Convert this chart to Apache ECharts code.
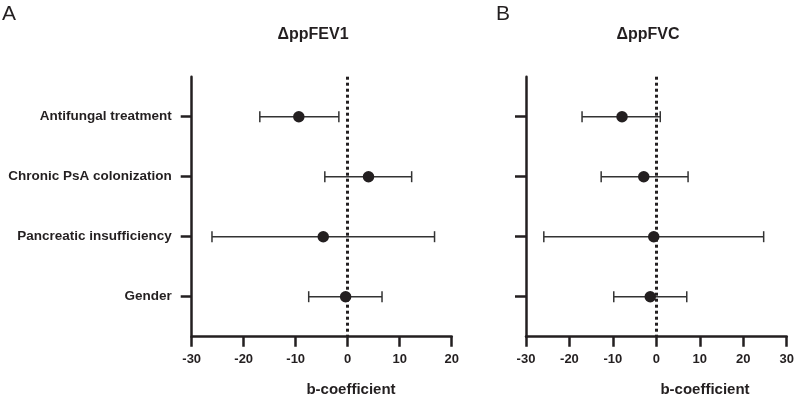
<!DOCTYPE html>
<html>
<head>
<meta charset="utf-8">
<script src="https://cdn.jsdelivr.net/npm/echarts@6/dist/echarts.min.js"></script>
<style>html,body{margin:0;padding:0;background:#fff}#c{width:800px;height:400px}</style>
</head>
<body>
<div id="c"></div>
<script>
const categories = ['Antifungal treatment', 'Chronic PsA colonization', 'Pancreatic insufficiency', 'Gender'];
const rowPos = [1, 2, 3, 4];
const fev1Est = [-9.4, 4.0, -4.7, -0.4];
const fev1Low = [-16.9, -4.4, -26.1, -7.5];
const fev1High = [-1.7, 12.3, 16.7, 6.6];
const fvcEst = [-7.9, -2.9, -0.6, -1.4];
const fvcLow = [-17.1, -12.7, -25.9, -9.8];
const fvcHigh = [0.9, 7.3, 24.7, 7.0];
const fev1Range = [-30, 20];
const fvcRange = [-30, 30];
const tickStep = 10;
const titles = ['\u0394ppFEV1', '\u0394ppFVC'];
const panelLetters = ['A', 'B'];
const xName = 'b-coefficient';

const dark = '#231f20';
const FONT = 'Liberation Sans, Arial, Helvetica, sans-serif';

function xAxisCfg(idx, range) {
  return {
    type: 'value', gridIndex: idx, min: range[0], max: range[1], interval: tickStep,
    axisLine: {show: true, onZero: false, lineStyle: {color: dark, width: 2.5}},
    axisTick: {show: true, length: 10, lineStyle: {color: dark, width: 2.5}},
    axisLabel: {color: dark, fontWeight: 'bold', fontSize: 13, fontFamily: FONT, margin: 16},
    splitLine: {show: false}
  };
}
function yAxisCfg(idx, showLabels) {
  return {
    type: 'value', gridIndex: idx, inverse: true, min: 1/3, max: 14/3,
    axisLine: {show: true, onZero: false, lineStyle: {color: dark, width: 2.5}},
    axisTick: {show: true, length: 11, customValues: rowPos, lineStyle: {color: dark, width: 2.5}},
    axisLabel: {show: showLabels, customValues: rowPos, margin: 20, color: dark, fontWeight: 'bold', fontSize: 13.5, fontFamily: FONT,
      formatter: v => categories[Math.round(v) - 1] || ''},
    splitLine: {show: false}
  };
}
function errSeries(idx, low, high) {
  return {
    type: 'custom', xAxisIndex: idx, yAxisIndex: idx,
    data: rowPos.map((r, i) => [r, low[i], high[i]]),
    encode: {x: [1, 2], y: 0},
    renderItem: function (params, api) {
      const y = api.value(0);
      const p1 = api.coord([api.value(1), y]);
      const p2 = api.coord([api.value(2), y]);
      const st = {stroke: '#333', lineWidth: 1.5};
      const h = 5.5;
      return {type: 'group', children: [
        {type: 'line', shape: {x1: p1[0], y1: p1[1], x2: p2[0], y2: p2[1]}, style: st},
        {type: 'line', shape: {x1: p1[0], y1: p1[1] - h, x2: p1[0], y2: p1[1] + h}, style: st},
        {type: 'line', shape: {x1: p2[0], y1: p2[1] - h, x2: p2[0], y2: p2[1] + h}, style: st}
      ]};
    },
    z: 3
  };
}
function ptSeries(idx, est) {
  return {
    type: 'scatter', xAxisIndex: idx, yAxisIndex: idx,
    data: rowPos.map((r, i) => [est[i], r]),
    symbol: 'circle', symbolSize: 11.5,
    itemStyle: {color: dark, opacity: 1},
    z: 5,
    markLine: {
      silent: true, symbol: 'none', label: {show: false},
      lineStyle: {color: dark, width: 3, type: [3, 3]},
      data: [{xAxis: 0}]
    }
  };
}

const chart = echarts.init(document.getElementById('c'), null, {renderer: 'canvas'});
chart.setOption({
  animation: false,
  backgroundColor: '#fff',
  grid: [
    {left: 191.7, width: 260, top: 76.7, bottom: 63.3},
    {left: 526, width: 260.7, top: 76.7, bottom: 63.3}
  ],
  xAxis: [xAxisCfg(0, fev1Range), xAxisCfg(1, fvcRange)],
  yAxis: [yAxisCfg(0, true), yAxisCfg(1, false)],
  graphic: [
    {type: 'text', left: 2, top: 4, style: {text: panelLetters[0], font: '21px ' + FONT, fill: dark}},
    {type: 'text', left: 496, top: 4, style: {text: panelLetters[1], font: '21px ' + FONT, fill: dark}},
    {type: 'text', x: 313, y: 35, style: {text: titles[0], font: 'bold 16px ' + FONT, fill: dark, align: 'center', verticalAlign: 'middle'}},
    {type: 'text', x: 648, y: 35, style: {text: titles[1], font: 'bold 16px ' + FONT, fill: dark, align: 'center', verticalAlign: 'middle'}},
    {type: 'text', x: 351, y: 390, style: {text: xName, font: 'bold 15px ' + FONT, fill: dark, align: 'center', verticalAlign: 'middle'}},
    {type: 'text', x: 705, y: 390, style: {text: xName, font: 'bold 15px ' + FONT, fill: dark, align: 'center', verticalAlign: 'middle'}}
  ],
  series: [
    errSeries(0, fev1Low, fev1High), ptSeries(0, fev1Est),
    errSeries(1, fvcLow, fvcHigh), ptSeries(1, fvcEst)
  ]
});
</script>
</body>
</html>
